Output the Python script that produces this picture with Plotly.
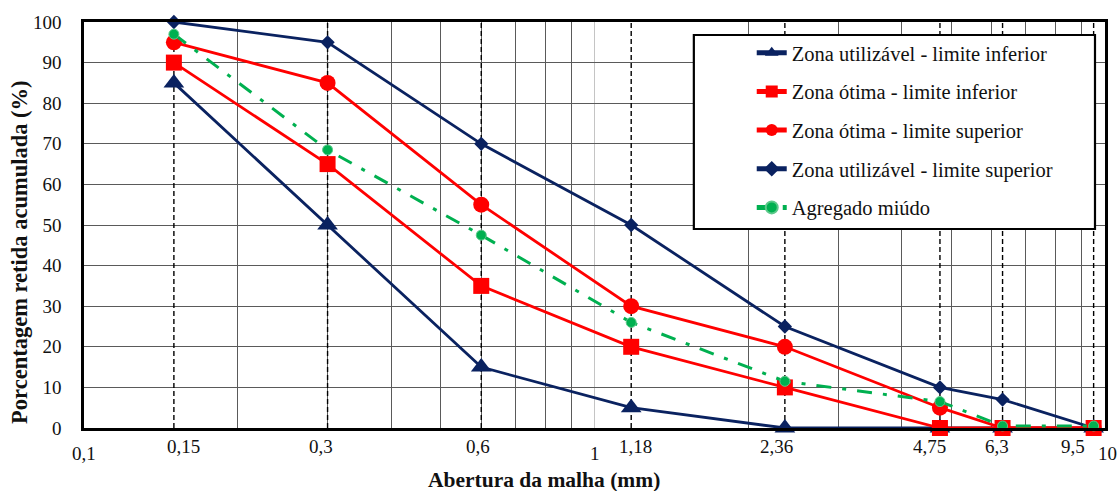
import math
import plotly.graph_objects as go

# Sieve openings (mm) and their labels
sieves = [0.15, 0.3, 0.6, 1.18, 2.36, 4.75, 6.3, 9.5]
sieve_labels = ["0,15", "0,3", "0,6", "1,18", "2,36", "4,75", "6,3", "9,5"]
decade_ticks = [0.1, 1, 10]
decade_labels = ["0,1", "1", "10"]

# Cumulative retained percentage per sieve
util_inf = [85, 50, 15, 5, 0, 0, 0, 0]
otima_inf = [90, 65, 35, 20, 10, 0, 0, 0]
otima_sup = [95, 85, 55, 30, 20, 5, 0, 0]
util_sup = [100, 95, 70, 50, 25, 10, 7, 0]
agregado = [97, 68.5, 47.5, 26, 11.5, 6.5, 0.5, 0.5]

FONT = "Liberation Serif"
NAVY = "#0a2260"
RED = "#ff0000"
GREEN = "#00b050"

# horizontal nudges (px) of the sieve labels under the axis
sieve_label_shift = [10, -7, -3, 4, -8, -10, -6, -21]
decade_label_shift = [0, 0, 2]

minor_grid = [m * d for d in (0.1, 1) for m in range(2, 10) if m * d != 1]

fig = go.Figure()

# dashed verticals at each sieve opening
vx, vy = [], []
for s in sieves:
    vx += [s, s, None]
    vy += [0, 100, None]
fig.add_trace(go.Scatter(x=vx, y=vy, mode="lines", showlegend=False, hoverinfo="skip",
                         line=dict(color="black", width=1.4, dash="5px,3px")))

series = [
    ("Zona utilizável - limite inferior", util_inf, NAVY, "triangle-up", 18, 1),
    ("Zona utilizável - limite superior", util_sup, NAVY, "diamond", 11, 4),
    ("Zona ótima - limite superior", otima_sup, RED, "circle", 16, 3),
    ("Zona ótima - limite inferior", otima_inf, RED, "square", 16, 2),
]
for name, vals, color, symbol, size, rank in series:
    fig.add_trace(go.Scatter(
        x=sieves, y=vals, name=name, mode="lines+markers", legendrank=rank,
        legendgroup=name, cliponaxis=False,
        line=dict(color=color, width=2.8),
        marker=dict(symbol=symbol, size=size, color=color),
    ))

fig.add_trace(go.Scatter(
    x=sieves, y=agregado, name="Agregado miúdo", mode="lines+markers", legendrank=5,
    legendgroup="Agregado miúdo", cliponaxis=False,
    line=dict(color=GREEN, width=3, dash="15px,11px,4px,11px"),
    marker=dict(symbol="circle", size=10, color=GREEN, line=dict(color="#5cc98a", width=1)),
))

annotations = []
for v, t, dx in zip(sieves, sieve_labels, sieve_label_shift):
    annotations.append(dict(x=math.log10(v), xref="x", y=0, yref="paper", text=t,
                            showarrow=False, yanchor="middle", yshift=-18, xshift=dx,
                            font=dict(family=FONT, size=19, color="#111")))
for v, t, dx in zip(decade_ticks, decade_labels, decade_label_shift):
    annotations.append(dict(x=math.log10(v), xref="x", y=0, yref="paper", text=t,
                            showarrow=False, yanchor="middle", yshift=-25, xshift=dx,
                            font=dict(family=FONT, size=19, color="#111")))

annotations.append(dict(x=0.4506, xref="paper", y=0, yref="paper", yshift=-52,
                        yanchor="middle", showarrow=False,
                        text="<b>Abertura da malha (mm)</b>",
                        font=dict(family=FONT, size=21.5, color="#111")))
annotations.append(dict(x=-0.0626, xref="paper", y=0.434, yref="paper",
                        xanchor="center", yanchor="middle", textangle=-90, showarrow=False,
                        text="<b>Porcentagem retida acumulada (%)</b>",
                        font=dict(family=FONT, size=22.5, color="#111")))

fig.update_layout(
    width=1120, height=491,
    margin=dict(l=84, r=13, t=20, b=63),
    paper_bgcolor="white", plot_bgcolor="white",
    font=dict(family=FONT, color="#111"),
    annotations=annotations,
    shapes=[dict(type="rect", xref="paper", yref="paper",
                 x0=0.5973, x1=0.9902, y0=0.4902, y1=0.968,
                 line=dict(color="black", width=2.2), fillcolor="white", layer="above")],
    legend=dict(x=0.654, y=0.973, xanchor="left", yanchor="top",
                bgcolor="rgba(0,0,0,0)", borderwidth=0,
                traceorder="grouped", tracegroupgap=9, itemsizing="constant",
                font=dict(family=FONT, size=20.5, color="#111")),
    xaxis=dict(type="log", range=[-1, 1], tickvals=[1], showticklabels=False, ticks="",
               showgrid=True, gridcolor="#c4c4c4", gridwidth=1.2,
               minor=dict(tickvals=minor_grid, showgrid=True, gridcolor="#5a5a5a", gridwidth=1.2, ticks=""),
               showline=True, linecolor="black", linewidth=2.6, mirror=True, zeroline=False),
    yaxis=dict(range=[0, 100], dtick=10, tick0=0, ticks="", ticklabelstandoff=16,
               tickfont=dict(family=FONT, size=19, color="#111"),
               showgrid=True, gridcolor="#5a5a5a", gridwidth=1.2,
               showline=True, linecolor="black", linewidth=2.6, mirror=True, zeroline=False),
)

fig.write_html("out.html")
